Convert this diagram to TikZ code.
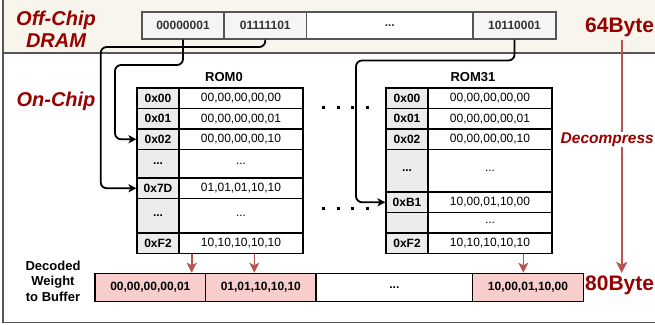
\documentclass[tikz,border=0pt]{standalone}
\usepackage{fontspec}
\setmainfont{Liberation Sans}
\usetikzlibrary{arrows.meta,calc}
\definecolor{offred}{HTML}{990000}
\definecolor{arrred}{HTML}{B85450}
\definecolor{buffill}{HTML}{F8CECC}
\definecolor{dramfill}{HTML}{F5F5F5}
\definecolor{addrfill}{HTML}{ECECEC}
\definecolor{bandfill}{HTML}{F8F5EC}
\definecolor{framegray}{HTML}{555555}
\definecolor{dramtext}{HTML}{333333}

\tikzset{
  cell/.style={draw=black, line width=1.1pt, inner sep=0pt, font=\fontsize{12}{14}\selectfont},
  addr/.style={cell, fill=addrfill, minimum width=42pt, font=\fontsize{12}{14}\selectfont\bfseries},
  val/.style={cell, fill=white, minimum width=124pt},
  dram/.style={draw=framegray, line width=1.1pt, fill=dramfill, inner sep=0pt,
    minimum height=27pt, text=dramtext, font=\fontsize{12}{14}\selectfont\bfseries},
  buf/.style={draw=black, line width=1.1pt, fill=buffill, inner sep=0pt,
    minimum height=28.4pt, font=\fontsize{12}{14}\selectfont\bfseries},
  romtitle/.style={font=\fontsize{13}{15}\selectfont\bfseries},
  bigred/.style={text=offred, font=\fontsize{20}{22}\selectfont\bfseries\itshape, align=center, inner sep=0pt},
  sizelbl/.style={text=offred, font=\fontsize{21}{23}\selectfont\bfseries, inner sep=0pt},
  conn/.style={draw=black, line width=1.8pt, rounded corners=6pt,
    -{Stealth[length=8pt,width=8pt,inset=2pt]}},
  redarr/.style={draw=arrred, line width=1.6pt, -{Stealth[length=10pt,width=10pt,inset=2.5pt]}},
  bigarr/.style={draw=arrred, line width=2pt, -{Stealth[length=11pt,width=11pt,inset=2.5pt]}},
  dots/.style={draw=black, line width=3pt, dash pattern=on 3pt off 11.5pt},
}

\begin{document}
\begin{tikzpicture}[x=1pt,y=-1pt]
\useasboundingbox (0,0) rectangle (655,324);
\clip (0,0) rectangle (655,324);

% off-chip band and frame
\fill[bandfill] (3,0) rectangle (660,53);
\draw[framegray, line width=1.2pt] (3,53) -- (660,53);
\draw[framegray, line width=1.2pt] (3,-2) -- (3,322.5) -- (660,322.5);

% side labels (base anchor = baseline of the last line)
\node[bigred, anchor=base] (offchip) at (56,47.5) {Off-Chip\\DRAM};
\node[bigred, anchor=base] (onchip) at (56,106) {On-Chip};

% DRAM words
\node[dram, minimum width=82pt]   (d1) at (183,25.5)    {00000001};
\node[dram, minimum width=82.5pt] (d2) at (265.25,25.5) {01111101};
\node[dram, minimum width=166.5pt, fill=white] (d3) at (389.75,25.5) {...};
\node[dram, minimum width=83pt]   (d4) at (514.5,25.5)  {10110001};

% ROM0
\node[romtitle] (t0) at (224,77) {ROM0};
\node[addr, minimum height=20.5pt] (a00) at (158,98.25)  {0x00};
\node[val,  minimum height=20.5pt] (v00) at (241,98.25)  {00,00,00,00,00};
\node[addr, minimum height=20.5pt] (a01) at (158,118.75) {0x01};
\node[val,  minimum height=20.5pt] (v01) at (241,118.75) {00,00,00,00,01};
\node[addr, minimum height=20.5pt] (a02) at (158,139.25) {0x02};
\node[val,  minimum height=20.5pt] (v02) at (241,139.25) {00,00,00,00,10};
\node[addr, minimum height=28.5pt] (a03) at (158,163.75) {...};
\node[val,  minimum height=28.5pt] (v03) at (241,163.75) {...};
\node[addr, minimum height=20.5pt] (a04) at (158,188.25) {0x7D};
\node[val,  minimum height=20.5pt] (v04) at (241,188.25) {01,01,01,10,10};
\node[addr, minimum height=34.5pt] (a05) at (158,215.75) {...};
\node[val,  minimum height=34.5pt] (v05) at (241,215.75) {...};
\node[addr, minimum height=20.5pt] (a06) at (158,243.25) {0xF2};
\node[val,  minimum height=20.5pt] (v06) at (241,243.25) {10,10,10,10,10};

% ROM31
\node[romtitle] (t31) at (473,77) {ROM31};
\node[addr, minimum height=20.5pt] (a30) at (407,98.25)  {0x00};
\node[val,  minimum height=20.5pt] (v30) at (490,98.25)  {00,00,00,00,00};
\node[addr, minimum height=20.5pt] (a31) at (407,118.75) {0x01};
\node[val,  minimum height=20.5pt] (v31) at (490,118.75) {00,00,00,00,01};
\node[addr, minimum height=20.5pt] (a32) at (407,139.25) {0x02};
\node[val,  minimum height=20.5pt] (v32) at (490,139.25) {00,00,00,00,10};
\node[addr, minimum height=42.5pt] (a33) at (407,170.75) {...};
\node[val,  minimum height=42.5pt] (v33) at (490,170.75) {...};
\node[addr, minimum height=20.5pt] (a34) at (407,202.25) {0xB1};
\node[val,  minimum height=20.5pt] (v34) at (490,202.25) {10,00,01,10,00};
\node[addr, minimum height=20.5pt] (a35) at (407,222.75) {};
\node[val,  minimum height=20.5pt] (v35) at (490,222.75) {...};
\node[addr, minimum height=20.5pt] (a36) at (407,243.25) {0xF2};
\node[val,  minimum height=20.5pt] (v36) at (490,243.25) {10,10,10,10,10};

% ellipsis between the ROMs
\coordinate (e1a) at (322,107);   \coordinate (e1b) at (370,107);
\coordinate (e2a) at (322,208);   \coordinate (e2b) at (370,208);
\draw[dots] (e1a) -- (e1b);
\draw[dots] (e2a) -- (e2b);

% decoded weight buffer
\node[font=\fontsize{13}{15.5}\selectfont\bfseries, align=center, anchor=base] (dlbl) at (53,301)
  {Decoded\\Weight\\to Buffer};
\node[buf, minimum width=110.7pt] (b1) at (150.35,287.5) {00,00,00,00,01};
\node[buf, minimum width=110.3pt] (b2) at (260.85,287.5) {01,01,10,10,10};
\node[buf, minimum width=156.7pt, fill=white] (b3) at (394.35,287.5) {...};
\node[buf, minimum width=110.6pt] (b4) at (528,287.5) {10,00,01,10,00};

% index connectors
\draw[conn] (d1.south) |- (115,65) |- (a02.west);
\draw[conn] (d2.south) |- (100.7,47) |- (a04.west);
\draw[conn] (d4.south) |- (356,60.5) |- (a34.west);

% ROM outputs into the buffer
\draw[redarr] ([xshift=-49.3pt]v06.south) -- ([xshift=-49.3pt]v06.south |- b1.north);
\draw[redarr] ([xshift=13.3pt]v06.south) -- ([xshift=13.3pt]v06.south |- b2.north);
\draw[redarr] ([xshift=33.3pt]v36.south) -- ([xshift=33.3pt]v36.south |- b4.north);

% size labels and decompression arrow
\node[sizelbl, anchor=base west] (s64) at (585,32) {64Byte};
\node[sizelbl, anchor=base west] (s80) at (585,290) {80Byte};
\coordinate (dtop) at (621.7,40);
\coordinate (dbot) at (621.7,273);
\draw[bigarr] (dtop) -- (dbot);
\node[text=offred, font=\fontsize{15.5}{18}\selectfont\bfseries\itshape, fill=white,
  inner sep=0.5pt, anchor=base west] (dec) at (560,143) {Decompress};
\end{tikzpicture}
\end{document}
